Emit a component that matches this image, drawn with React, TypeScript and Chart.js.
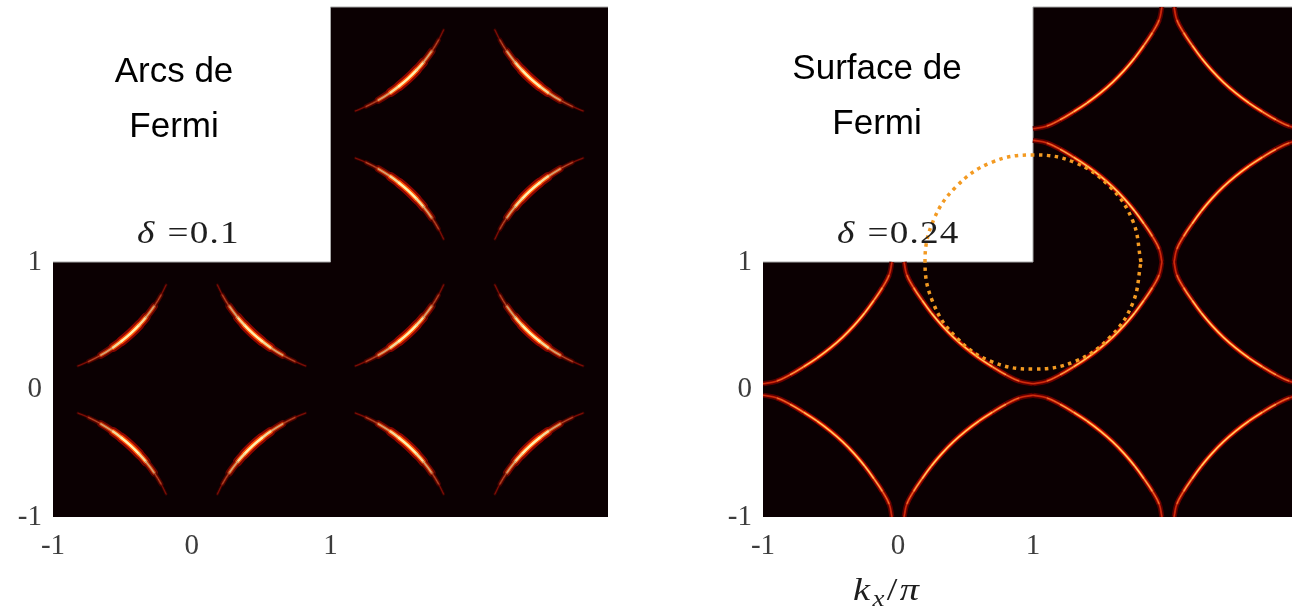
import React, { useEffect, useRef } from 'react';
import { Chart, registerables } from 'chart.js';

Chart.register(...registerables);

// ---------- data (units of k/π) ----------
const TICK_VALUES = [-1, 0, 1];
const TICK_LABELS = ['-1', '0', '1'];

// Brillouin-zone copies that are shown (centres of the squares)
const ZONE_CX = [0, 2, 2];
const ZONE_CY = [0, 0, 2];
// quadrant signs inside a zone
const QUAD_SX = [1, -1, -1, 1];
const QUAD_SY = [1, 1, -1, -1];

// upper edge of the L-shaped map (filled down to ky = -1)
const MAP_EDGE_X = [-1, 1, 1, 3];
const MAP_EDGE_Y = [1, 1, 3, 3];

// δ = 0.1 : Fermi arc in one quadrant, relative to zone centre
const ARC_KX = [0.82, 0.743, 0.654, 0.567, 0.505, 0.44, 0.38, 0.33, 0.27, 0.22, 0.185];
const ARC_KY = [0.185, 0.22, 0.27, 0.33, 0.38, 0.44, 0.505, 0.567, 0.654, 0.743, 0.82];
const ARC_WEIGHT = [0.08, 0.3, 0.65, 0.9, 1, 1, 0.9, 0.65, 0.3, 0.08];

// δ = 0.24 : Fermi surface branch in one quadrant, relative to zone centre
const FS_KX = [0.045, 0.065, 0.115, 0.178, 0.247, 0.327, 0.41, 0.5, 0.6, 0.7, 0.8, 0.9, 1.0];
const FS_KY = [1.0, 0.9, 0.8, 0.7, 0.6, 0.5, 0.41, 0.327, 0.247, 0.178, 0.115, 0.065, 0.045];
const FS_WEIGHT = [0.25, 0.55, 0.8, 0.95, 1, 1, 1, 1, 0.95, 0.8, 0.55, 0.25];

// dotted circle around (π, π)
const CIRCLE_KX = [1.8, 1.74, 1.57, 1.31, 1.0, 0.69, 0.43, 0.26, 0.2, 0.26, 0.43, 0.69, 1.0, 1.31, 1.57, 1.74, 1.8];
const CIRCLE_KY = [1.0, 1.32, 1.59, 1.78, 1.84, 1.78, 1.59, 1.32, 1.0, 0.68, 0.41, 0.22, 0.16, 0.22, 0.41, 0.68, 1.0];

// ---------- styles ----------
const SERIF = "'Liberation Serif', 'DejaVu Serif', serif";
const SANS = "'Liberation Sans', Arial, sans-serif";
const MAP_BG = '#0b0002';

type Layer = { w0: number; w1: number; c0: number[]; c1: number[]; order: number };

const ARC_LAYERS: Layer[] = [
  { w0: 2.5, w1: 10, c0: [35, 0, 0], c1: [140, 5, 0], order: 30 },
  { w0: 1.0, w1: 5.5, c0: [90, 0, 0], c1: [255, 75, 0], order: 20 },
  { w0: 0.3, w1: 2.6, c0: [140, 10, 0], c1: [255, 240, 170], order: 10 },
];
const FS_LAYERS: Layer[] = [
  { w0: 5.0, w1: 5.5, c0: [70, 0, 0], c1: [135, 0, 0], order: 30 },
  { w0: 1.8, w1: 2.8, c0: [165, 0, 0], c1: [255, 65, 0], order: 20 },
  { w0: 0.4, w1: 1.3, c0: [200, 25, 0], c1: [255, 215, 110], order: 10 },
];

const mix = (a: number[], b: number[], t: number) =>
  `rgb(${a.map((v, i) => Math.round(v + (b[i] - v) * t)).join(',')})`;

function branches(kx: number[], ky: number[]) {
  const out: { x: number; y: number }[][] = [];
  ZONE_CX.forEach((cx, z) => {
    const cy = ZONE_CY[z];
    QUAD_SX.forEach((sx, q) => {
      const sy = QUAD_SY[q];
      out.push(kx.map((x, i) => ({ x: cx + sx * x, y: cy + sy * ky[i] })));
    });
  });
  return out;
}

function glowDatasets(kx: number[], ky: number[], weights: number[], layers: Layer[], cap: string) {
  const sets: any[] = [];
  const curves = branches(kx, ky);
  layers.forEach((L) => {
    curves.forEach((data) => {
      sets.push({
        data,
        order: L.order,
        borderColor: mix(L.c0, L.c1, 1),
        borderWidth: L.w1,
        borderCapStyle: cap,
        borderJoinStyle: 'round',
        tension: 0.4,
        pointRadius: 0,
        pointHoverRadius: 0,
        fill: false,
        segment: {
          borderColor: (c: any) => mix(L.c0, L.c1, weights[c.p0DataIndex] ?? 0),
          borderWidth: (c: any) => L.w0 + (L.w1 - L.w0) * (weights[c.p0DataIndex] ?? 0),
        },
      });
    });
  });
  return sets;
}

function mapDataset() {
  return {
    data: MAP_EDGE_X.map((x, i) => ({ x, y: MAP_EDGE_Y[i] })),
    order: 100,
    fill: 'start',
    backgroundColor: MAP_BG,
    borderColor: '#a8a8a8',
    borderWidth: 1,
    tension: 0,
    pointRadius: 0,
    pointHoverRadius: 0,
    clip: 2,
  };
}

function circleDataset() {
  return {
    data: CIRCLE_KX.map((x, i) => ({ x, y: CIRCLE_KY[i] })),
    order: 0,
    fill: false,
    borderColor: '#f39a22',
    borderWidth: 3.5,
    borderDash: [3.5, 4.5],
    borderCapStyle: 'butt',
    tension: 0.4,
    pointRadius: 0,
    pointHoverRadius: 0,
  };
}

const tickLabel = (v: any) => {
  const i = TICK_VALUES.indexOf(Math.round(Number(v) * 1000) / 1000);
  return i >= 0 ? TICK_LABELS[i] : '';
};

function makeConfig(datasets: any[], xMax: number, yAxisWidth: number, padRight: number): any {
  const tickFont = { family: SERIF, size: 29 };
  return {
    type: 'line',
    data: { datasets },
    options: {
      animation: false,
      responsive: true,
      maintainAspectRatio: false,
      events: [],
      layout: { padding: { top: 7, right: padRight, bottom: 0, left: 0 } },
      plugins: { legend: { display: false }, tooltip: { enabled: false }, title: { display: false } },
      scales: {
        x: {
          type: 'linear',
          min: -1,
          max: xMax,
          grid: { display: false, drawTicks: false },
          border: { display: false },
          ticks: {
            stepSize: 1,
            autoSkip: false,
            maxRotation: 0,
            padding: 12,
            font: tickFont,
            color: '#3c3c3c',
            callback: tickLabel,
          },
          afterFit: (s: any) => {
            s.height = 93;
            s.paddingLeft = 0;
            s.paddingRight = 0;
          },
        },
        y: {
          type: 'linear',
          min: -1,
          max: 3,
          grid: { display: false, drawTicks: false },
          border: { display: false },
          ticks: {
            stepSize: 1,
            autoSkip: false,
            padding: 11,
            font: tickFont,
            color: '#3c3c3c',
            callback: tickLabel,
          },
          afterFit: (s: any) => {
            s.width = yAxisWidth;
            s.paddingTop = 0;
            s.paddingBottom = 0;
          },
        },
      },
    },
  };
}

const abs = (left: number, top: number, extra: React.CSSProperties = {}): React.CSSProperties => ({
  position: 'absolute',
  left,
  top,
  whiteSpace: 'nowrap',
  ...extra,
});

export default function App() {
  const leftRef = useRef<HTMLCanvasElement>(null);
  const rightRef = useRef<HTMLCanvasElement>(null);

  useEffect(() => {
    const left = new Chart(
      leftRef.current as HTMLCanvasElement,
      makeConfig([mapDataset(), ...glowDatasets(ARC_KX, ARC_KY, ARC_WEIGHT, ARC_LAYERS, 'round')], 3, 53, 32)
    );
    const right = new Chart(
      rightRef.current as HTMLCanvasElement,
      makeConfig(
        [mapDataset(), ...glowDatasets(FS_KX, FS_KY, FS_WEIGHT, FS_LAYERS, 'butt'), circleDataset()],
        -1 + 529 / 135,
        113,
        0
      )
    );
    return () => {
      left.destroy();
      right.destroy();
    };
  }, []);

  const titleStyle: React.CSSProperties = {
    fontFamily: SANS,
    fontSize: 35,
    lineHeight: '55px',
    textAlign: 'center',
    width: 220,
    color: '#000',
  };
  const deltaStyle: React.CSSProperties = {
    fontFamily: SERIF,
    fontSize: 31,
    lineHeight: '31px',
    color: '#1e1e1e',
    transform: 'scaleX(1.2)',
    transformOrigin: 'left top',
    letterSpacing: 1,
  };

  return (
    <div style={{ position: 'absolute', left: 0, top: 0, width: 1292, height: 610, overflow: 'hidden', background: '#fff' }}>
      <div style={{ position: 'absolute', left: 0, top: 0, width: 640, height: 610 }}>
        <canvas ref={leftRef} style={{ display: 'block' }} />
      </div>
      <div style={{ position: 'absolute', left: 650, top: 0, width: 642, height: 610 }}>
        <canvas ref={rightRef} style={{ display: 'block' }} />
      </div>

      <div style={abs(64, 42, titleStyle)}>
        Arcs de
        <br />
        Fermi
      </div>
      <div style={abs(767, 39, titleStyle)}>
        Surface de
        <br />
        Fermi
      </div>

      <div style={abs(137, 217, deltaStyle)}>
        <i>δ</i>
        <span style={{ marginLeft: 10 }}>=</span>0.1
      </div>
      <div style={abs(837, 217, deltaStyle)}>
        <i>δ</i>
        <span style={{ marginLeft: 10 }}>=</span>0.24
      </div>

      <div
        style={abs(853, 573, {
          fontFamily: SERIF,
          fontSize: 32,
          lineHeight: '32px',
          color: '#1e1e1e',
          transform: 'scaleX(1.2)',
          transformOrigin: 'left top',
          letterSpacing: 2,
        })}
      >
        <i>k</i>
        <sub style={{ fontSize: '0.7em', verticalAlign: '-0.25em' }}>
          <i>x</i>
        </sub>
        /<i>π</i>
      </div>
    </div>
  );
}
